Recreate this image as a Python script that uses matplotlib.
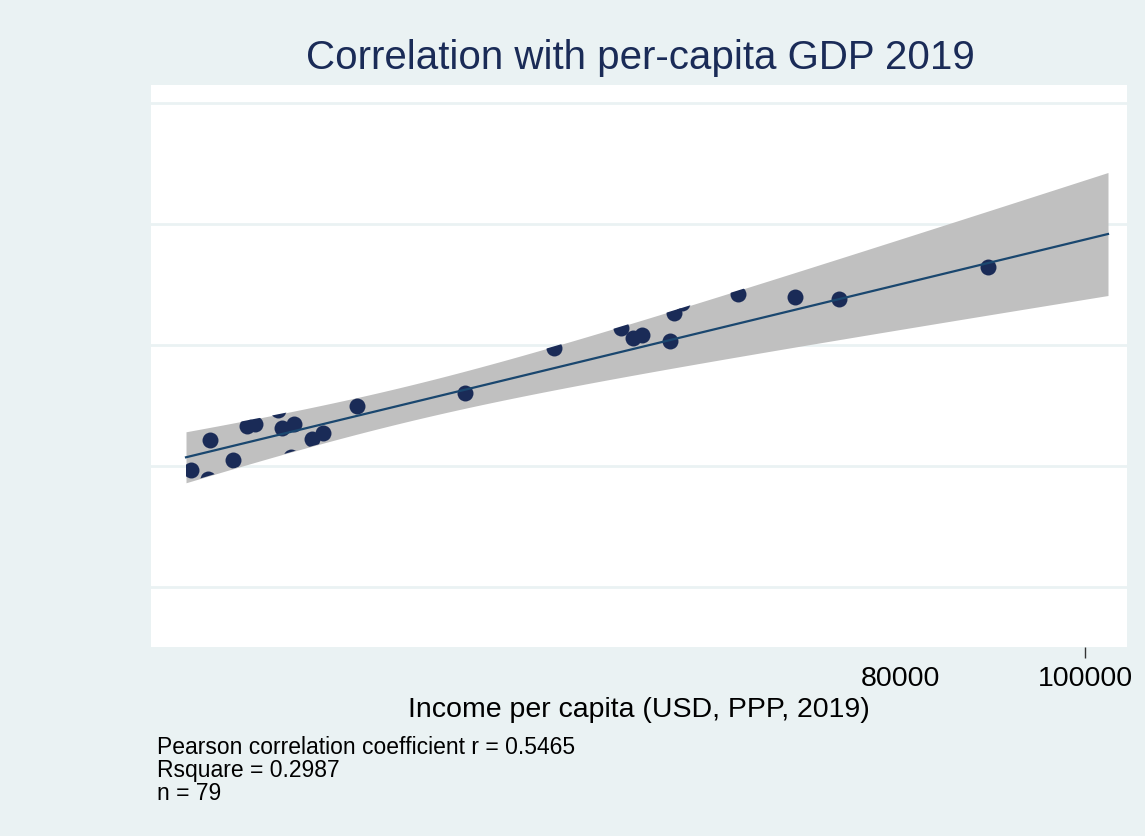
import numpy as np
import matplotlib
matplotlib.use("Agg")
import matplotlib.pyplot as plt

# Country observations: income per capita (USD, PPP) vs outcome score
income = [3351, 5405, 5189, 7892, 9405, 10270, 12757, 13189, 14487, 14162,
          16432, 17622, 21297, 32973, 42595, 49838, 51135, 52108, 55189,
          55568, 56432, 62486, 68649, 73405, 89546]
score = [39.34, 44.30, 37.85, 40.99, 46.69, 46.86, 49.26, 46.36, 46.94, 41.49,
         44.46, 45.41, 49.92, 52.02, 59.50, 62.81, 61.11, 61.65, 60.74,
         65.24, 66.94, 68.35, 67.98, 67.55, 72.94]

# Linear fit and its 95% confidence band
fit_intercept = 40.40
fit_slope = 3.703e-4
fit_x_range = (2811, 102486)
ci_x_mean = 26356
ci_half_at_mean = 2.952
ci_slope_term = 1.278e-4

x_ticks = [80000, 100000]
y_grid = [20, 40, 60, 80, 100]

stats_lines = ["Pearson correlation coefficient r = 0.5465",
               "Rsquare = 0.2987",
               "n = 79"]

navy = "#1a2b57"
line_col = "#1a476f"
bg = "#eaf2f3"

plt.rcParams["font.family"] = ["Liberation Sans", "DejaVu Sans"]

fig = plt.figure(figsize=(11.45, 8.36), dpi=100, facecolor=bg)
ax = fig.add_axes([151 / 1145, 1 - 647 / 836, (1127 - 151) / 1145, (647 - 85) / 836])
ax.set_facecolor("white")

ax.set_xlim(-973, 104541)
ax.set_ylim(10.08, 102.98)

for yv in y_grid:
    ax.axhline(yv, color=bg, lw=2.0, zorder=0)

xs = np.linspace(fit_x_range[0], fit_x_range[1], 300)
yfit = fit_intercept + fit_slope * xs
half = np.sqrt(ci_half_at_mean ** 2 + (ci_slope_term * (xs - ci_x_mean)) ** 2)
band = ax.fill_between(xs, yfit - half, yfit + half, color="#c0c0c0", lw=0, zorder=1)

pts = ax.scatter(income, score, s=132, color=navy, lw=0, zorder=2)
pts.set_clip_path(band.get_paths()[0], transform=ax.transData)

ax.plot(xs, yfit, color=line_col, lw=1.6, zorder=3)

for sp in ax.spines.values():
    sp.set_visible(False)

ax.set_yticks(y_grid)
ax.tick_params(axis="y", left=False, labelleft=False)
ax.set_xticks(x_ticks)
ax.set_xticklabels([str(v) for v in x_ticks])
ax.tick_params(axis="x", length=8, width=1, color="#333333", pad=6,
               labelsize=20.5, labelcolor="black")
ax.xaxis.get_major_ticks()[0].tick1line.set_visible(False)

ax.set_xlabel("Income per capita (USD, PPP, 2019)", fontsize=20.5, labelpad=3)

fig.text(640 / 1145, 1 - 58 / 836, "Correlation with per-capita GDP 2019",
         ha="center", va="center", fontsize=29, color=navy)

for i, line in enumerate(stats_lines):
    fig.text(157 / 1145, 1 - (747 + 23 * i) / 836, line, ha="left", va="center",
             fontsize=16.5, color="black")

fig.savefig("out.png", dpi=100, facecolor=bg)
